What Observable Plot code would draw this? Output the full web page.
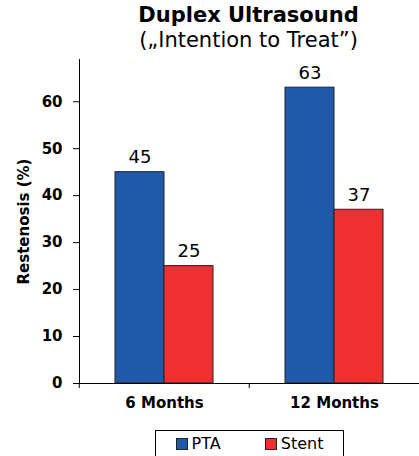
<!DOCTYPE html>
<html>
<head>
<meta charset="utf-8">
<script src="https://cdn.jsdelivr.net/npm/d3@7"></script>
<script src="https://cdn.jsdelivr.net/npm/@observablehq/plot@0.6"></script>
<style>
  html, body { margin: 0; padding: 0; background: #fff; }
  body { width: 419px; height: 456px; overflow: hidden; font-family: "DejaVu Sans", Verdana, sans-serif; }
  #title { position: relative; height: 56px; }
  #title .t1, #title .t2 { position: absolute; left: 78px; width: 341px; text-align: center; white-space: nowrap; color: #000; }
  #title .t1 { top: 3px; font-size: 21px; font-weight: bold; }
  #title .t2 { top: 28px; font-size: 21px; }
  #legend { position: absolute; left: 155px; top: 430px; width: 187px; height: 25px; border: 1px solid #000; box-sizing: content-box;
            display: flex; align-items: center; justify-content: center; font-size: 16px; color: #000; }
  #legend .item { display: flex; align-items: center; }
  #legend .sw { width: 10px; height: 10px; border: 1px solid #222; margin-right: 4px; }
  #legend .gap { width: 44px; }
</style>
</head>
<body>
<div id="title"><div class="t1">Duplex Ultrasound</div><div class="t2">(„Intention to Treat”)</div></div>
<div id="chart"></div>
<div id="legend"></div>
<script>
const periods = ["6 Months", "12 Months"];
const series = ["PTA", "Stent"];
const ptaValues = [45, 63];
const stentValues = [25, 37];
const colors = ["#1F59A8", "#EE3033"];
const yTicks = [0, 10, 20, 30, 40, 50, 60];

const data = [];
periods.forEach((p, i) => {
  data.push({period: p, series: "PTA", value: ptaValues[i]});
  data.push({period: p, series: "Stent", value: stentValues[i]});
});

const W = 419, ML = 78, MR = 0;
const halfFacet = (W - ML - MR) / periods.length / 2;

const chart = Plot.plot({
  width: W,
  height: 364,
  marginLeft: ML,
  marginRight: MR,
  marginTop: 3,
  marginBottom: 37,
  style: {fontFamily: "DejaVu Sans, Verdana, sans-serif", color: "#000", background: "#fff", overflow: "visible"},
  fx: {domain: periods, padding: 0, label: null},
  x: {domain: series, paddingInner: 0, paddingOuter: 0.72, axis: null},
  y: {domain: [0, 69], ticks: yTicks, tickSize: 6, tickPadding: 11, line: true,
      label: "Restenosis (%)", labelAnchor: "center", labelOffset: 61, labelArrow: "none",
      tickFormat: d => d},
  color: {domain: series, range: colors},
  marks: [
    Plot.barY(data, {fx: "period", x: "series", y: "value", fill: "series", stroke: "#222", strokeWidth: 1}),
    Plot.text(data, {fx: "period", x: "series", y: "value", text: d => String(d.value), dy: -9, lineAnchor: "bottom",
                     fontSize: 18, letterSpacing: 0.5, fill: "#000"}),
    Plot.ruleY([0], {stroke: "#000"}),
    Plot.axisFx({anchor: "bottom", tickSize: 0, tickPadding: 14, fontSize: 15, fontWeight: "bold", label: null, letterSpacing: 1}),
    Plot.axisFx({anchor: "bottom", tickSize: 5, tickFormat: () => "", dx: -halfFacet, label: null})
  ]
});
document.getElementById("chart").appendChild(chart);

// y-axis styling (implicit axis)
d3.select(chart).selectAll("[aria-label='y-axis tick label'] text, [aria-label='y-axis tick label']")
  .attr("font-size", 15).attr("font-weight", "bold");
d3.select(chart).selectAll("[aria-label='y-axis label'] text, [aria-label='y-axis label']")
  .attr("font-size", 15).attr("font-weight", "bold");

const legend = d3.select("#legend");
series.forEach((s, i) => {
  if (i > 0) legend.append("div").attr("class", "gap");
  const it = legend.append("div").attr("class", "item");
  it.append("div").attr("class", "sw").style("background", colors[i]);
  it.append("span").text(s);
});
</script>
</body>
</html>
